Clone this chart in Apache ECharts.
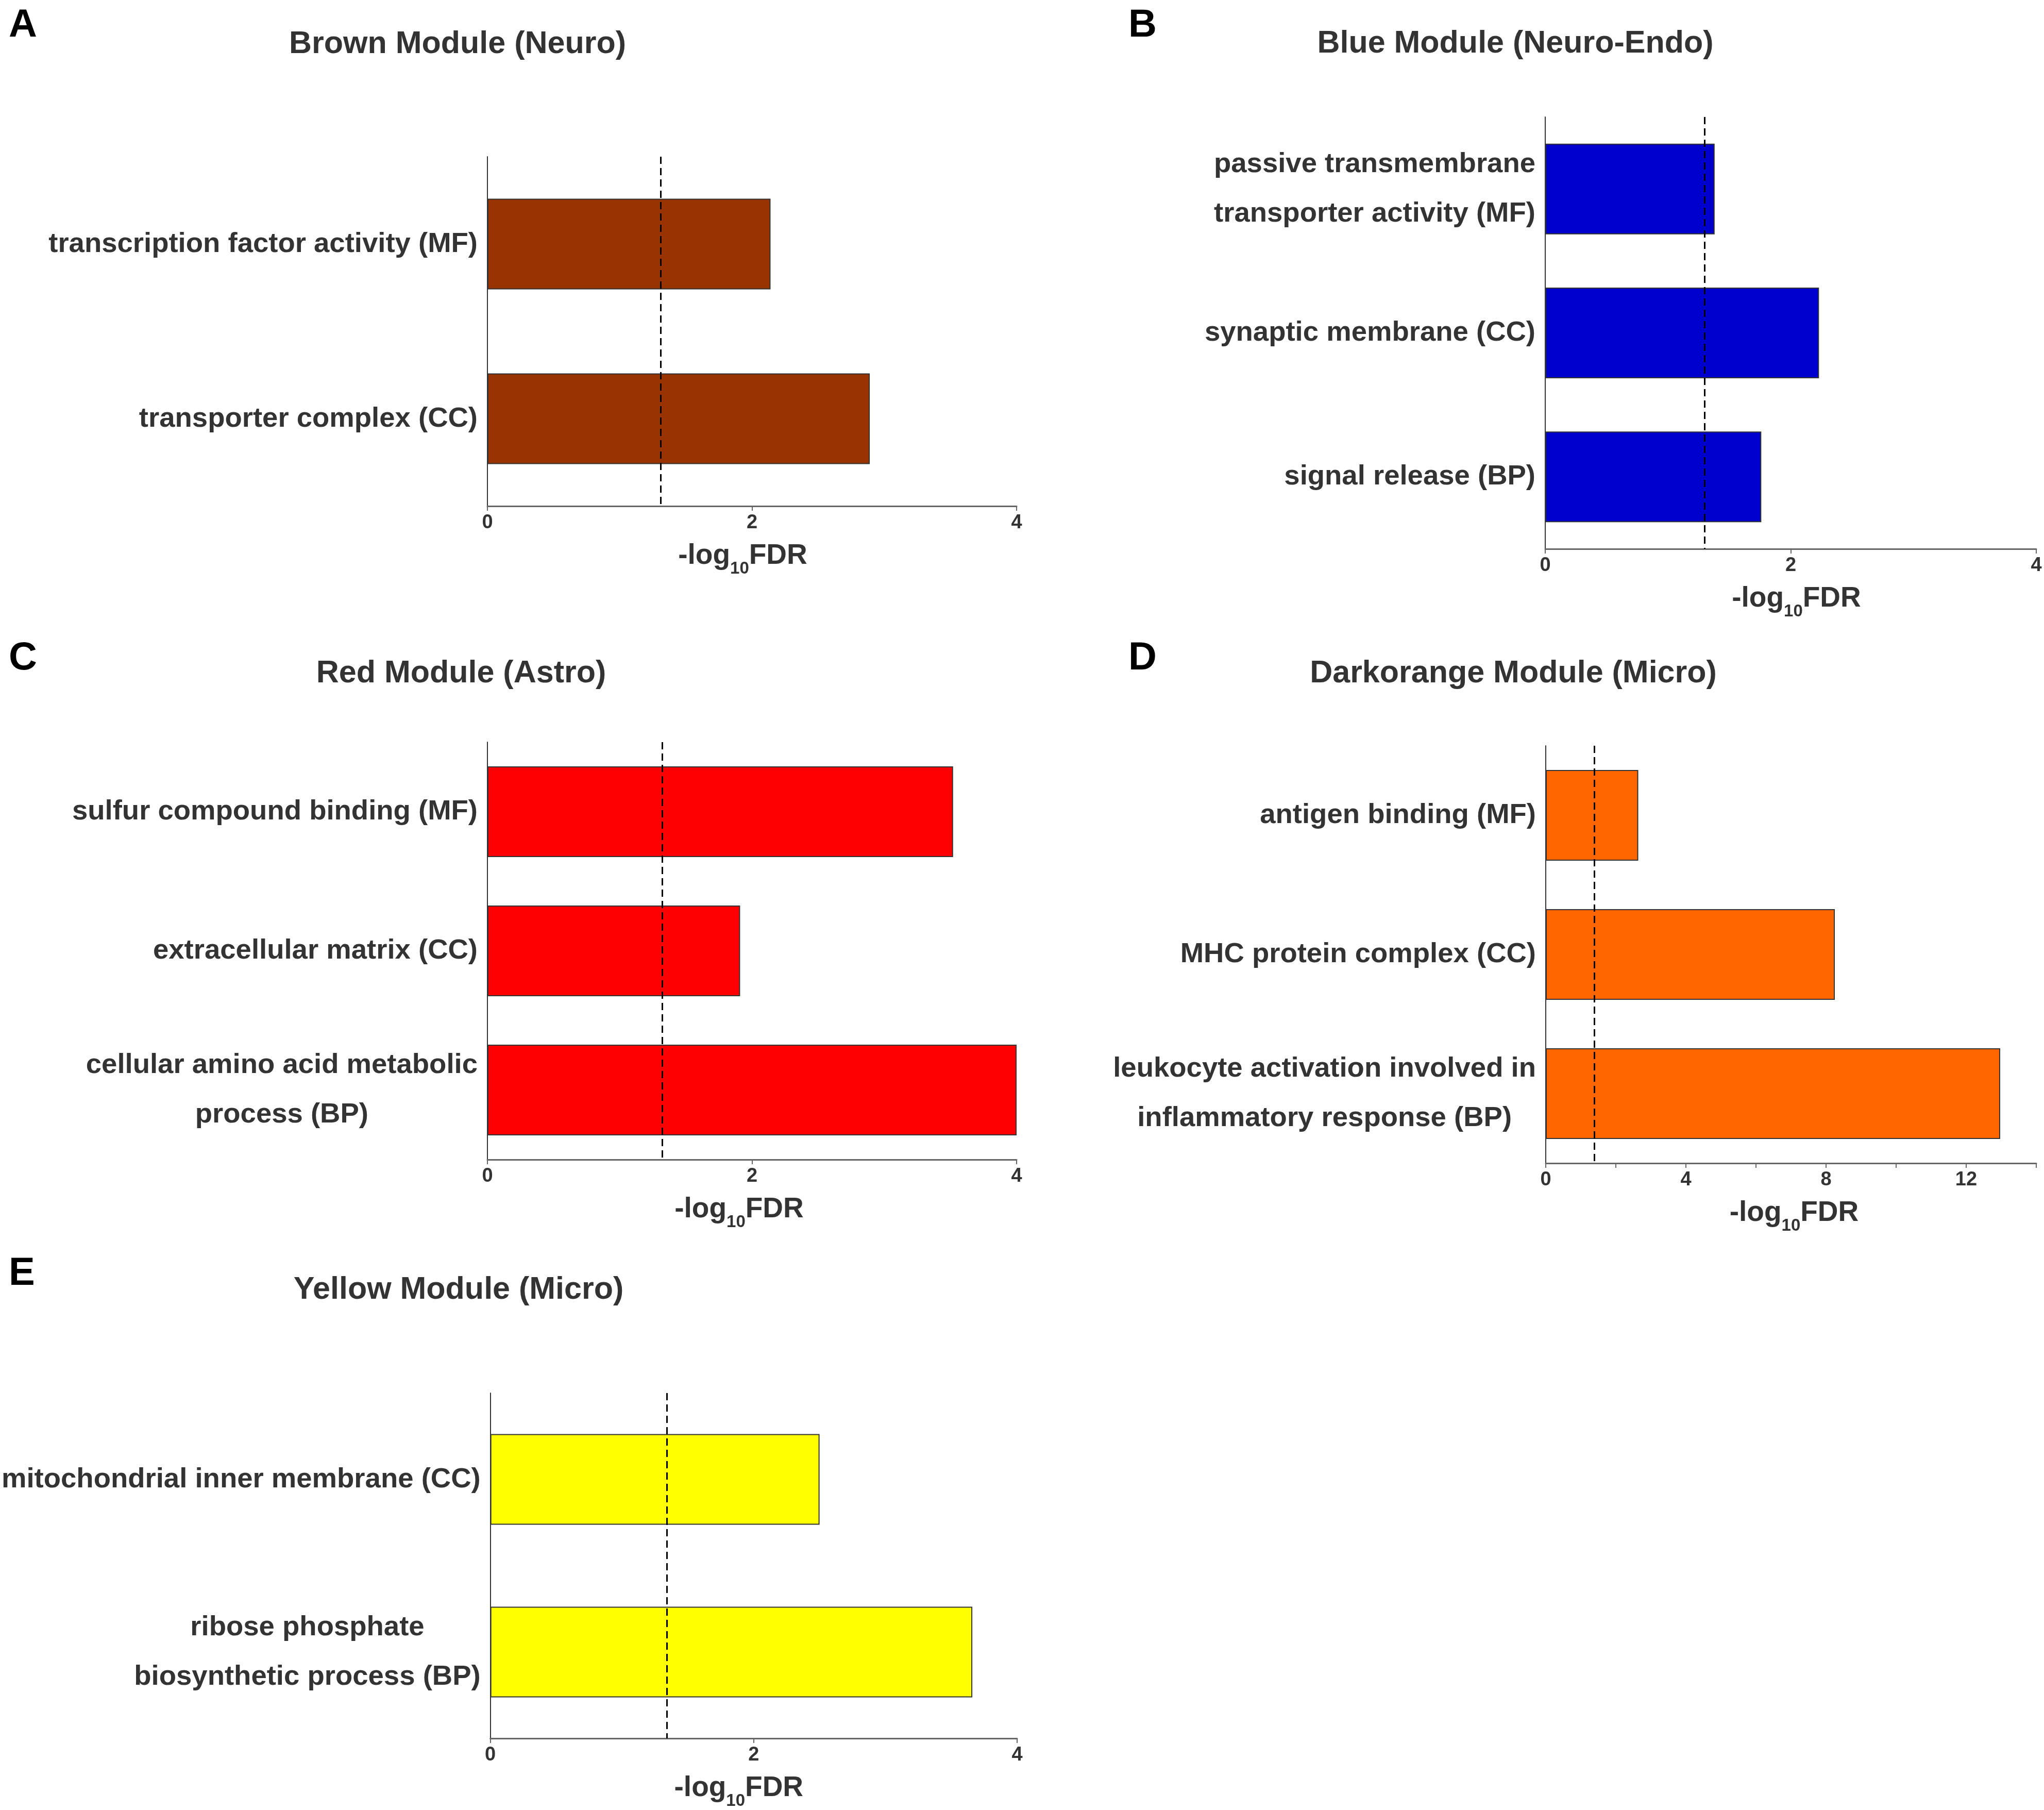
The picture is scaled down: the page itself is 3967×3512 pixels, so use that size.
<!DOCTYPE html>
<html>
<head>
<meta charset="utf-8">
<script src="https://cdn.jsdelivr.net/npm/echarts@6/dist/echarts.min.js"></script>
<style>
html,body{margin:0;padding:0;background:#fff;}
#chart{width:3967px;height:3512px;}
</style>
</head>
<body>
<div id="chart"></div>
<script>
const panelLetters = ['A', 'B', 'C', 'D', 'E'];
const panelTitles = ['Brown Module (Neuro)', 'Blue Module (Neuro-Endo)', 'Red Module (Astro)', 'Darkorange Module (Micro)', 'Yellow Module (Micro)'];

const catsA = ['transcription factor activity (MF)', 'transporter complex (CC)'];
const valsA = [2.14, 2.89];
const catsB = ['passive transmembrane\ntransporter activity (MF)', 'synaptic membrane (CC)', 'signal release (BP)'];
const valsB = [1.38, 2.23, 1.76];
const catsC = ['sulfur compound binding (MF)', 'extracellular matrix (CC)', 'cellular amino acid metabolic\nprocess (BP)'];
const valsC = [3.52, 1.91, 4.0];
const catsD = ['antigen binding (MF)', 'MHC protein complex (CC)', 'leukocyte activation involved in\ninflammatory response (BP)'];
const valsD = [2.64, 8.25, 12.97];
const catsE = ['mitochondrial inner membrane (CC)', 'ribose phosphate\nbiosynthetic process (BP)'];
const valsE = [2.5, 3.66];

const thresholds = [1.31, 1.305, 1.32, 1.38, 1.34];
const xMax = [4, 4, 4, 14, 4];
const xTickStep = [2, 2, 2, 2, 2];
const xLabelStep = [2, 2, 2, 4, 2];
const barColors = ['#993300', '#0000CC', '#FF0000', '#FF6600', '#FFFF00'];

const categories = [catsA, catsB, catsC, catsD, catsE];
const values = [valsA, valsB, valsC, valsD, valsE];

// layout (pixels)
const grids = [
  {left: 946, top: 304, width: 1027, height: 678},
  {left: 2999, top: 227, width: 953, height: 838},
  {left: 946, top: 1440, width: 1027, height: 810},
  {left: 3000, top: 1447, width: 952, height: 810},
  {left: 946, top: 2703, width: 1028, height: 673}
];
const titlePos = [[888, 86], [2941, 85], [895, 1307], [2937, 1307], [890, 2503]];
const letterPos = [[17, 12], [2190, 12], [17, 1240], [2190, 1240], [17, 2434]];
const namePadding = [[0, 36, 0, 0], [0, 0, 0, 22], [0, 50, 0, 0], [0, 0, 0, 12], [0, 58, 0, 0]];

const FONT = '"Liberation Sans", Arial, sans-serif';
const TXT = '#333333';

const titles = [];
panelTitles.forEach((t, i) => {
  titles.push({
    text: t, left: titlePos[i][0], top: titlePos[i][1], textAlign: 'center', textVerticalAlign: 'middle', padding: 0,
    textStyle: {fontFamily: FONT, fontSize: 61, fontWeight: 'bold', color: TXT}
  });
  titles.push({
    text: panelLetters[i], left: letterPos[i][0], top: letterPos[i][1], padding: 0,
    textStyle: {fontFamily: FONT, fontSize: 76, fontWeight: 'bold', color: '#000'}
  });
});

const option = {
  backgroundColor: '#fff',
  animation: false,
  title: titles,
  grid: grids.map(g => Object.assign({containLabel: false}, g)),
  xAxis: grids.map((g, i) => ({
    type: 'value', gridIndex: i, min: 0, max: xMax[i], interval: xTickStep[i],
    axisLine: {show: true, onZero: false, lineStyle: {color: '#666', width: 3}},
    axisTick: {show: true, length: 9, lineStyle: {color: '#666', width: 2}},
    splitLine: {show: false},
    axisLabel: {
      fontFamily: FONT, fontSize: 38, fontWeight: 'bold', color: TXT, margin: 14,
      formatter: v => (v % xLabelStep[i] === 0 ? String(v) : '')
    },
    name: '{n|-log}{s|10}{n|FDR}', nameLocation: 'middle', nameGap: 56,
    nameTextStyle: {
      padding: namePadding[i],
      rich: {
        n: {fontFamily: FONT, fontSize: 55, fontWeight: 'bold', color: TXT, lineHeight: 82, verticalAlign: 'middle'},
        s: {fontFamily: FONT, fontSize: 33, fontWeight: 'bold', color: TXT, lineHeight: 82, verticalAlign: 'bottom'}
      }
    }
  })),
  yAxis: grids.map((g, i) => ({
    type: 'category', gridIndex: i, inverse: true, data: categories[i],
    axisLine: {show: true, lineStyle: {color: '#333', width: 2}},
    axisTick: {show: false},
    splitLine: {show: false},
    axisLabel: {
      interval: 0, margin: 19, align: 'right',
      formatter: v => v.split('\n').map(l => '{c|' + l + '}').join('\n'),
      rich: {c: {fontFamily: FONT, fontSize: 54.5, fontWeight: 'bold', color: TXT, lineHeight: 96, align: 'center'}}
    }
  })),
  series: grids.map((g, i) => ({
    type: 'bar', xAxisIndex: i, yAxisIndex: i, data: values[i], barWidth: 176,
    itemStyle: {color: barColors[i], borderColor: '#333', borderWidth: 2},
    markLine: {
      silent: true, symbol: ['none', 'none'], label: {show: false},
      lineStyle: {type: [14, 8], color: '#000', width: 3},
      data: [{xAxis: thresholds[i]}]
    }
  }))
};

const chart = echarts.init(document.getElementById('chart'), null, {renderer: 'canvas'});
chart.setOption(option);
</script>
</body>
</html>
